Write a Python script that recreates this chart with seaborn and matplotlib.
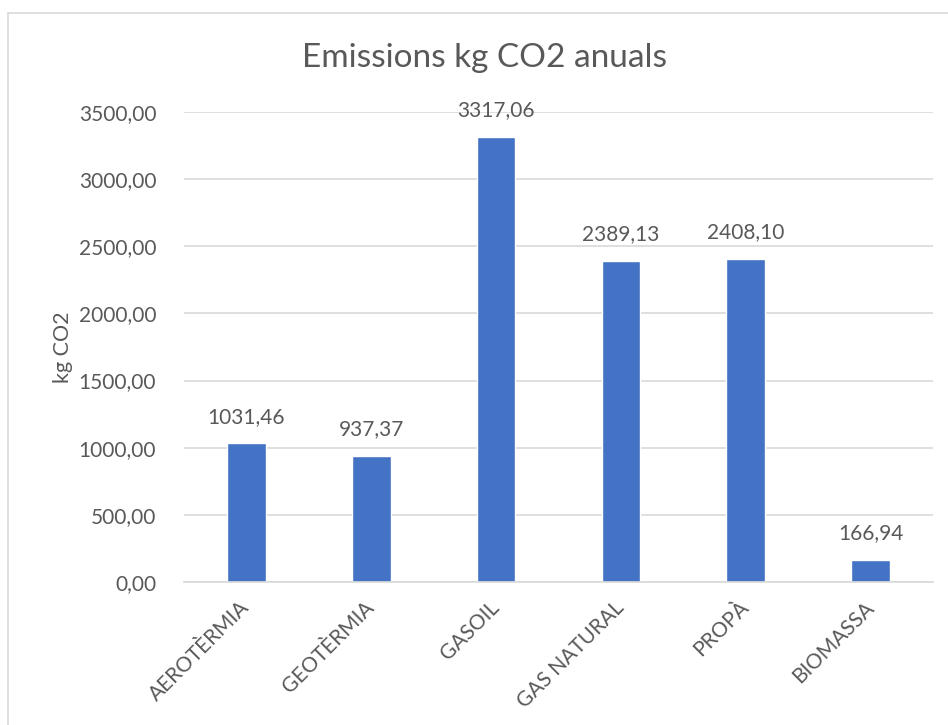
import matplotlib
matplotlib.use("Agg")
import matplotlib.pyplot as plt
from matplotlib.patches import Rectangle
from matplotlib.ticker import FuncFormatter, MultipleLocator
import seaborn as sns
import pandas as pd

# Annual CO2 emissions per heating system
categories = ["AEROTÈRMIA", "GEOTÈRMIA", "GASOIL", "GAS NATURAL", "PROPÀ", "BIOMASSA"]
emissions = [1031.46, 937.37, 3317.06, 2389.13, 2408.10, 166.94]

title = "Emissions kg CO2 anuals"
y_label = "kg CO2"

df = pd.DataFrame({"sistema": categories, "kg": emissions})

sns.set_style("white")
plt.rcParams["font.family"] = ["Lato", "DejaVu Sans"]

TEXT = "#595959"
GRID = "#D9D9D9"
BAR = "#4472C4"


def comma_fmt(v, _pos=None):
    return f"{v:.2f}".replace(".", ",")


fig = plt.figure(figsize=(9.48, 7.25), dpi=100)
ax = fig.add_axes([184 / 948, 1 - 582 / 725, (933 - 184) / 948, (582 - 112) / 725])

sns.barplot(data=df, x="sistema", y="kg", color=BAR, width=0.31,
            saturation=1, ax=ax, zorder=3)

ax.set_ylim(0, 3500)
ax.set_xlim(-0.5, len(categories) - 0.5)
ax.yaxis.set_major_locator(MultipleLocator(500))
ax.yaxis.set_major_formatter(FuncFormatter(comma_fmt))
ax.grid(axis="y", color=GRID, linewidth=1.2, zorder=0)
ax.grid(axis="x", visible=False)
for side in ["top", "right", "left"]:
    ax.spines[side].set_visible(False)
ax.spines["bottom"].set_color(GRID)
ax.spines["bottom"].set_linewidth(1.2)
ax.spines["bottom"].set_zorder(4)
ax.tick_params(axis="both", length=0, colors=TEXT, labelsize=15)
ax.tick_params(axis="y", pad=20)
ax.tick_params(axis="x", pad=16)
ax.set_xlabel("")
ax.set_ylabel(y_label, fontsize=15.5, color=TEXT, labelpad=4)

for lab in ax.get_xticklabels():
    lab.set_rotation(45)
    lab.set_ha("right")
    lab.set_va("center")
    lab.set_rotation_mode("anchor")

for i, v in enumerate(emissions):
    ax.annotate(comma_fmt(v), (i, v), xytext=(0, 12), textcoords="offset points",
                ha="center", va="bottom", fontsize=15, color=TEXT)

fig.text(485 / 948, 1 - 58 / 725, title, ha="center", va="center",
         fontsize=24, color=TEXT)

# chart-area frame
fig.patches.append(Rectangle((8 / 948, -0.1), 1.2, (725 - 13) / 725 + 0.1,
                             transform=fig.transFigure, fill=False,
                             edgecolor=GRID, linewidth=1.2))

fig.savefig("out.png", dpi=100)
